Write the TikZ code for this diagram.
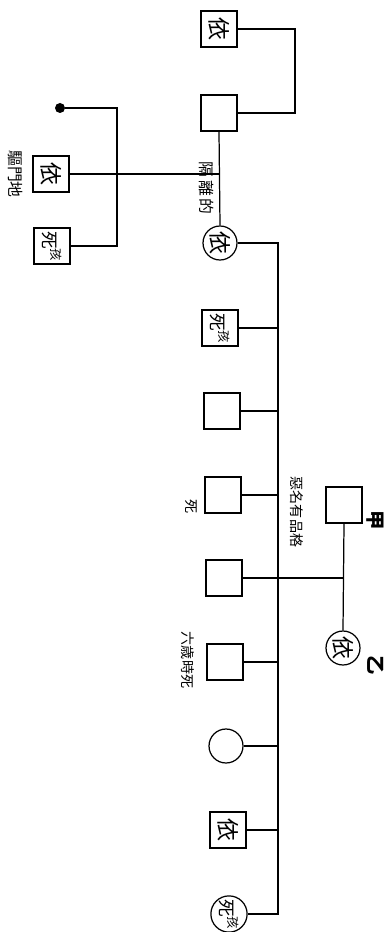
\documentclass[tikz,border=0pt]{standalone}
\usepackage{graphicx}
\usepackage{fontspec}
\newfontfamily\jp{Noto Sans CJK JP}
\newcommand{\turned}[1]{\rotatebox{-90}{#1}}
\begin{document}
\begin{tikzpicture}[
                x=0.02cm, y=-0.02cm,
                every node/.style={inner sep=0pt, font=\jp\fontsize{13}{13}\selectfont},
                male/.style={draw, line width=0.7pt, minimum size=0.72cm},
                female/.style={circle, draw, line width=0.7pt, minimum size=0.68cm},
                note/.style={font=\jp\fontsize{8}{9}\selectfont},
                link/.style={line width=0.7pt},
                heavy/.style={line width=1.2pt}
            ]
            \useasboundingbox (0,0) rectangle (386,932);

            % upper generation
            \node[male] (grand) at (219,29) {\turned{依}};
            \node[male] (father) at (219,113) {};
            \node[female] (mother) at (220,243) {\turned{依}};
            \node[fill, circle, minimum size=0.2cm] (stranger) at (60,108) {};
            \node[male] (heir) at (51,174) {\turned{依}};
            \node[male] (lost) at (52,246) {\turned{\fontsize{10}{10}\selectfont 死\raisebox{0.5em}{\fontsize{7}{7}\selectfont 孩}}};
            \node[note, font=\jp\fontsize{9}{9}\selectfont] (heirnote) at (16,174) {\turned{驅門地}};
            \node[note, font=\jp\fontsize{9}{9}\selectfont] (apart) at (207,188) {\turned{隔\,離\,的}};

            \draw[heavy] (grand.east) -- ++(57,0) |- (father.east);
            \draw[link] (father.south) -- (mother.north);
            \coordinate (meet) at (father.south |- heir.east);
            \draw[link] (heir.east) -- (meet);
            \draw[link] (stranger) -- (117,108) |- (lost.east);

            % children
            \coordinate (trunk) at (278,243);
            \node[male] (c1) at (220,328) {\turned{\fontsize{10}{10}\selectfont 死\raisebox{0.5em}{\fontsize{7}{7}\selectfont 孩}}};
            \node[male] (c2) at (222,411) {};
            \node[male] (c3) at (223,495) {};
            \node[male] (c4) at (224,578) {};
            \node[male] (c5) at (225,662) {};
            \node[female] (c6) at (226,746) {};
            \node[male] (c7) at (228,830) {\turned{依}};
            \node[female] (c8) at (229,914) {\turned{\fontsize{10}{10}\selectfont 死\raisebox{0.5em}{\fontsize{7}{7}\selectfont 孩}}};
            \coordinate (root) at (trunk |- c8.east);

            \node[note] (died) at (191,507) {\turned{死}};
            \node[note] (sixyears) at (188,660) {\turned{六歳時死}};

            \draw[link] (mother.east) -- (trunk) -- (root) -- (c8.east);
            \foreach \k in {1,...,7}
                \draw[link] (c\k.east) -- (c\k.east -| trunk);

            % married couple
            \node[male] (jia) at (344,505) {};
            \node[female] (yi) at (343,648) {\turned{依}};
            \node[font=\jp\bfseries\fontsize{11}{11}\selectfont] (jialbl) at (375,520) {\turned{甲}};
            \node[font=\jp\bfseries\fontsize{11}{11}\selectfont] (yilbl) at (376,665) {\turned{乙}};
            \node[note] (jianote) at (297,512) {\turned{惡名有品格}};
            \draw[link] (jia.south) -- (yi.north);
            \draw[link] (c4.east) -- (c4.east -| jia.south);

        \end{tikzpicture}
\end{document}
